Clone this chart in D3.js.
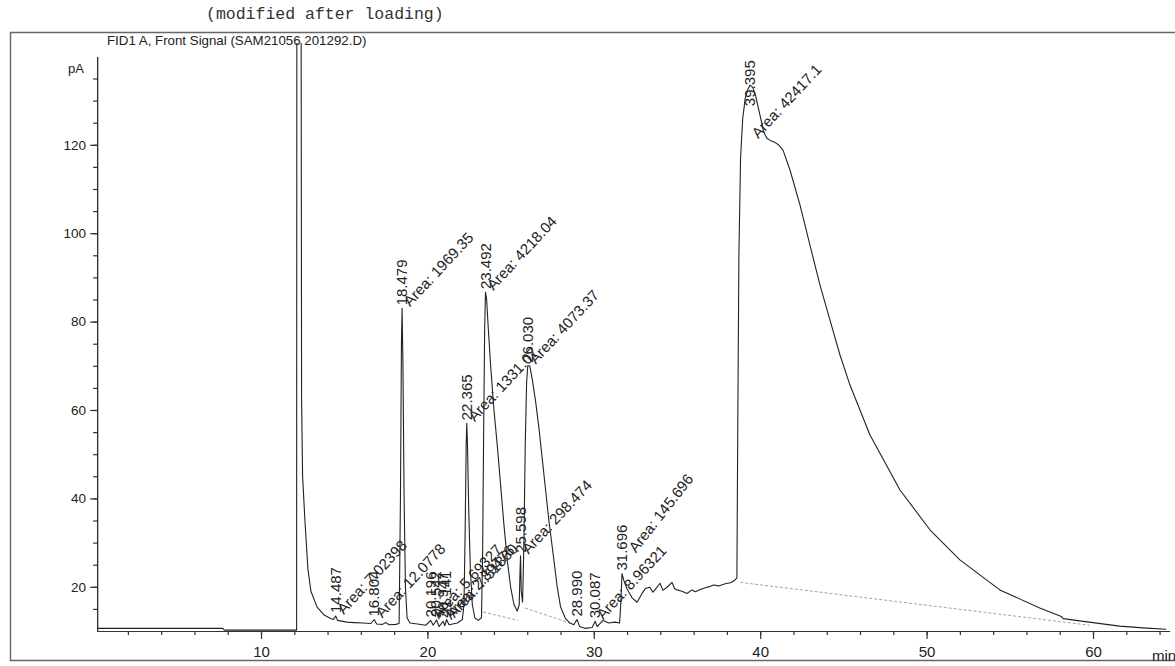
<!DOCTYPE html>
<html>
<head>
<meta charset="utf-8">
<script src="https://cdn.jsdelivr.net/npm/d3@7"></script>
<style>
body { margin: 0; background: #fff; }
svg { display: block; font-family: "Liberation Sans", Arial, sans-serif; }
</style>
</head>
<body>
<svg id="chart" width="1175" height="666"></svg>
<script>
// axis labels
var xLabels = [10, 20, 30, 40, 50, 60];
var yLabels = [20, 40, 60, 80, 100, 120];

// FID signal, [min, pA]
var solventFront = [
  [0.15,10.6],[7.7,10.6],[7.8,10.2],[12.14,10.2],[12.17,300],[12.36,300],[12.44,62],[12.5,45],
  [12.64,35],[12.82,24],[13.0,19],[13.37,15.4],[13.8,13.6],[14.15,12.9],[14.35,12.6],[14.487,13.4],
  [14.6,12.4],[15.17,12.0],[15.6,11.9],[16.13,11.8],[16.6,11.7],[16.804,12.6],[16.95,11.6],[17.3,11.5],
  [17.5,11.9],[17.7,11.4],[18.1,11.5],[18.3,11.7]
];
var earlyPeaks = [
  [18.38,40],[18.44,75],[18.479,83],[18.53,70],[18.6,40],[18.68,20],[18.78,13],[18.95,11.8],
  [19.4,11.6],[19.9,11.3],[20.2,12.4],[20.35,11.3],[20.55,12.5],[20.7,11.0],[20.94,12.2],[21.05,11.2],
  [21.15,12.6],[21.3,11.4],[21.8,11.8],[22.1,12.6],
  [22.2,16],[22.27,33],[22.33,52],[22.365,57],[22.41,52],[22.48,38],[22.58,24],[22.7,16],[22.85,13],
  [23.05,12.4],[23.25,13],
  [23.32,28],[23.38,55],[23.44,78],[23.492,86.7],[23.56,85],[23.65,79],[23.8,70],[24.0,60],[24.2,52],
  [24.4,43],[24.6,34],[24.8,26],[25.0,20],[25.2,16],[25.4,14.5],
  [25.52,16],[25.57,24],[25.598,27],[25.64,19],[25.72,16.5],
  [25.8,30],[25.88,52],[25.96,66],[26.03,70],[26.15,70],[26.3,67],[26.5,62],[26.7,56],[26.9,49],
  [27.1,42],[27.3,35],[27.55,27.6],[27.8,20],[28.0,15.5],[28.3,12.8],[28.57,11.8]
];
var latePeaks = [
  [28.8,11.4],[28.99,12.6],[29.15,11],[29.47,10.6],[29.9,10.8],[30.087,12.2],[30.2,11],[30.55,12.4],
  [30.9,11.8],[31.27,12.0],[31.55,11.8],
  [31.62,16],[31.696,23],[31.8,21.5],[32.0,19.5],[32.3,17.5],[32.6,16.5],[32.9,18.5],[33.1,19.6],
  [33.37,19.9],[33.55,18.8],[33.7,19.4],[33.98,20.8],[34.15,19.2],[34.4,19.9],[34.7,21],[34.85,19.6],
  [35.0,19.3],[35.3,19.0],[35.6,18.5],[35.9,19.3],[36.1,18.9],[36.4,19.4],[36.7,19.8],[37.0,20.1],
  [37.2,20.4],[37.5,20.2],[37.9,20.7],[38.2,20.9],[38.36,21.2],[38.5,21.6]
];
var hump = [
  [38.6,22],[38.65,55],[38.72,95],[38.82,117],[38.95,126],[39.1,130.5],[39.25,132.5],[39.395,133.5],
  [39.55,133],[39.7,131.5],[39.85,129],[40.0,126.5],[40.2,123],[40.4,121.5],[40.6,121],[40.9,120.5],
  [41.1,120],[41.37,118.8],[41.79,114.3],[42.39,106.4],[42.99,97.3],[43.59,88.3],[44.19,80.4],
  [44.79,72.5],[45.39,65.7],[46.59,54.4],[48.4,41.9],[50.2,32.9],[52.0,26.1],[54.4,19.3],
  [56.8,15.2],[58.1,13.3],[58.2,12.8],[59.2,12.3],[61.6,11.1],[63.0,10.7],[64.4,10.4]
];

// integration baselines [t1, v1, t2, v2]
var baselines = [
  [23.35,14.3,25.45,12.4],
  [25.87,15.2,28.57,11.8],
  [38.8,21,59.8,11.3]
];

// peak annotations
var peakRT   = [14.487, 16.804, 20.196, 20.542, 20.947, 21.141, 22.365, 23.492, 25.598, 26.030,
                28.990, 30.087, 31.696, 18.479, 39.395];
var peakTop  = [13.4, 12.6, 12.4, 12.5, 12.2, 12.6, 57, 86.7, 27, 70, 12.6, 12.2, 23, 83, 133.5];
var peakArea = ["7.02398", "12.0778", "5.69327", null, "2.89476", "7.51860", "1331.07", "4218.04",
                "298.474", "4073.37", null, "8.96321", "145.696", "1969.35", "42417.1"];

var svg = d3.select("#chart");
var k = 16.64;
var x = d3.scaleLinear().domain([0.15, 64.6]).range([94.6 + 0.15 * k, 94.6 + 64.6 * k]);
var y = d3.scaleLinear().domain([10, 140]).range([631, 56.4]);

// page header + frame
svg.append("text").attr("x", 206).attr("y", 19)
  .style("font-family", "'Liberation Mono', 'Courier New', monospace").style("font-size", "16.5px")
  .attr("fill", "#333").text("(modified after loading)");
svg.append("path").attr("d", "M1175,32.5H10.5V660.5H1175")
  .attr("fill", "none").attr("stroke", "#666").attr("stroke-width", 1.4);
svg.append("text").attr("x", 107).attr("y", 45).style("font-size", "13.3px")
  .attr("fill", "#222").text("FID1 A, Front Signal (SAM21056 201292.D)");

// axes
var yAxis = svg.append("g").attr("transform", "translate(" + x.range()[0] + ",0)");
yAxis.call(d3.axisLeft(y).tickValues(d3.range(15, 140, 5)).tickSize(4).tickSizeOuter(0).tickFormat(""));
yAxis.append("g").call(d3.axisLeft(y).tickValues(yLabels).tickSize(7).tickSizeOuter(0).tickPadding(4));

var xAxis = svg.append("g").attr("transform", "translate(0," + y.range()[0] + ")");
xAxis.call(d3.axisBottom(x).tickValues(d3.range(2, 65, 2)).tickSize(4).tickSizeOuter(0).tickFormat(""));
xAxis.append("g").call(d3.axisBottom(x).tickValues(xLabels).tickSize(8).tickSizeOuter(0).tickPadding(7));

svg.selectAll(".domain, .tick line").attr("stroke", "#333").attr("stroke-width", 1.2);
yAxis.selectAll("text").style("font-size", "13.5px").attr("fill", "#222").style("font-family", "'Liberation Sans', Arial");
xAxis.selectAll("text").style("font-size", "15px").attr("fill", "#222").style("font-family", "'Liberation Sans', Arial");

svg.append("text").attr("x", 68).attr("y", 73).style("font-size", "13px").attr("fill", "#222").text("pA");
svg.append("text").attr("x", 1152).attr("y", 661).style("font-size", "15px").attr("fill", "#222").text("min");

// trace
svg.append("clipPath").attr("id", "plotClip").append("rect")
  .attr("x", x.range()[0]).attr("y", 43).attr("width", 1175 - x.range()[0]).attr("height", y.range()[0] - 43);

var plot = svg.append("g").attr("clip-path", "url(#plotClip)");

plot.selectAll("line.base").data(baselines).enter().append("line")
  .attr("class", "base")
  .attr("x1", function(d) { return x(d[0]); }).attr("y1", function(d) { return y(d[1]); })
  .attr("x2", function(d) { return x(d[2]); }).attr("y2", function(d) { return y(d[3]); })
  .attr("stroke", "#999").attr("stroke-width", 0.9).attr("stroke-dasharray", "3,2");

var signal = solventFront.concat(earlyPeaks, latePeaks, hump);
var line = d3.line().x(function(d) { return x(d[0]); }).y(function(d) { return y(d[1]); });
plot.append("path").datum(signal).attr("d", line)
  .attr("fill", "none").attr("stroke", "#222").attr("stroke-width", 1.1).attr("stroke-linejoin", "round");

// peak labels; tags that would collide get nudged like the printout does
var labels = svg.append("g").style("font-size", "15px").attr("fill", "#222");
peakRT.forEach(function(rt, i) {
  var px = x(rt), py = y(peakTop[i]);
  var rtDrop = rt > 39 ? 24 : 0;
  labels.append("text")
    .attr("transform", "translate(" + (px + 5) + "," + (py - 3 + rtDrop) + ") rotate(-90)")
    .text(rt.toFixed(3));
  if (peakArea[i]) {
    var dx = 8, dy = -1, ang = -47;
    if (rt > 39) dy = 54;
    if (rt > 31 && rt < 32) { dx = 14; dy = -20; ang = -52; }
    labels.append("text")
      .attr("transform", "translate(" + (px + dx) + "," + (py + dy) + ") rotate(" + ang + ")")
      .text("Area: " + peakArea[i]);
  }
});
</script>
</body>
</html>
